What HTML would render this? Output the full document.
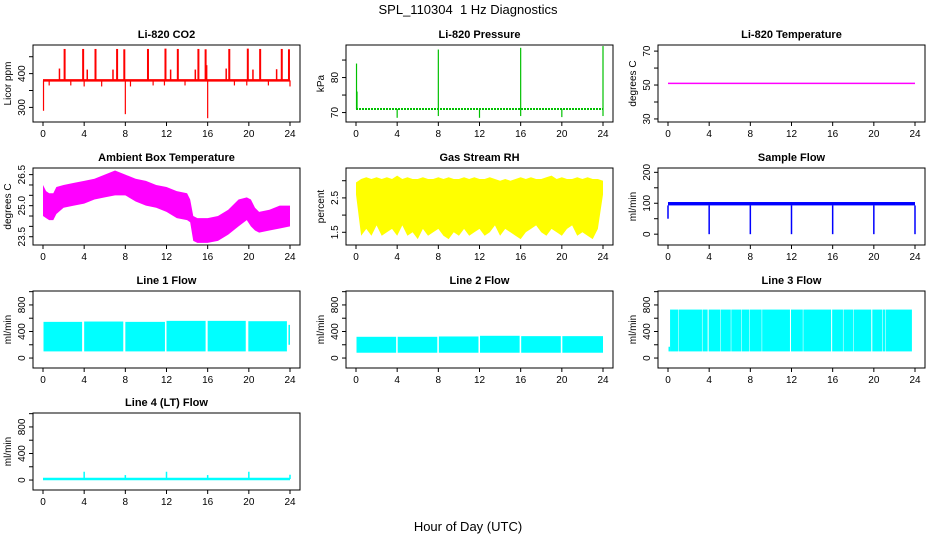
<!DOCTYPE html>
<html><head><meta charset="utf-8"><style>
body{margin:0;background:#fff;}
svg{display:block;font-family:"Liberation Sans",sans-serif;}
</style></head><body>
<svg id="c" width="936" height="540" viewBox="0 0 936 540">
<text x="468" y="14" text-anchor="middle" font-size="13" style="white-space:pre">SPL_110304  1 Hz Diagnostics</text>
<text x="468" y="531" text-anchor="middle" font-size="13">Hour of Day (UTC)</text>
</svg>
<script>
// ---- data ----
const hourTicks=[0,4,8,12,16,20,24];
// CO2
const co2Base=380;
const co2SpikeT=[2.1,3.9,5.1,7.2,7.9,10.2,11.9,13.1,15.1,15.8,18.1,19.9,21.1,23.2,23.9];
const co2SpikeV=[473,473,473,473,472,473,474,473,473,472,473,474,473,473,472];
const co2MinorT=[1.6,4.3,6.8,12.4,14.8,15.9,17.8,20.4,22.7];
const co2MinorV=[415,412,412,412,412,425,415,412,413];
const co2DipT=[0.05,0.6,2.7,4.0,5.7,8.0,8.5,10.7,11.8,13.8,16.0,18.6,19.8,21.9,24.0];
const co2DipV=[290,365,365,362,362,280,362,365,365,365,268,365,365,365,362];
// Pressure
const presBase=71;
const presSpikeT=[0.05,0.1,8.0,16.0,24.0];
const presSpikeV=[84,76,88,88.5,89];
const presDipT=[4,8,12,16,20,24];
const presDipV=[68.5,69,68.5,69,68.7,69];
// Li-820 temperature
const tempVal=51;
// Ambient box temp
const ambT=[0,0.3,0.6,1,1.3,2,3,4,5,6,7,8,9,10,11,12,13,14,14.3,14.6,15,16,17,18,19,19.8,20.2,20.6,21,22,23,24];
const ambHi=[26.0,25.7,25.6,25.6,25.9,26.0,26.1,26.2,26.3,26.5,26.7,26.5,26.3,26.2,26.0,25.9,25.7,25.6,25.3,24.5,24.4,24.4,24.5,24.8,25.3,25.4,25.3,24.9,24.7,24.8,25.0,25.0];
const ambLo=[24.5,24.4,24.3,24.3,24.6,24.9,25.0,25.1,25.3,25.4,25.5,25.5,25.2,25.0,24.9,24.7,24.4,24.3,24.2,23.3,23.2,23.2,23.3,23.6,24.0,24.3,24.0,23.8,23.7,23.8,23.9,24.0];
// Gas stream RH (half-hourly)
const rhHi=[2.95,3.05,3.1,3.05,3.1,3.05,3.1,3.05,3.15,3.05,3.1,3.05,3.05,3.1,3.05,3.05,3.1,3.05,3.1,3.05,3.05,3.1,3.05,3.1,3.05,3.05,3.1,3.05,3.0,3.05,3.0,3.05,3.1,3.05,3.1,3.05,3.05,3.1,3.15,3.05,3.1,3.05,3.05,3.1,3.05,3.1,3.05,3.05,3.0];
const rhLo=[2.6,1.4,1.6,1.4,1.7,1.4,1.5,1.6,1.4,1.7,1.4,1.5,1.3,1.6,1.4,1.5,1.6,1.4,1.3,1.5,1.4,1.6,1.4,1.5,1.6,1.4,1.5,1.7,1.4,1.6,1.5,1.4,1.3,1.5,1.6,1.7,1.5,1.4,1.6,1.5,1.4,1.6,1.7,1.4,1.5,1.4,1.3,1.6,2.6];
// Sample flow
const sfHi=104, sfLo=93;
const sfDipT=[0,4,8,12,16,20,24];
const sfDipV=[50,0,0,0,0,0,0];
// Line flows: segments
const l1SegStart=[0.05,4.0,8.0,12.0,16.0,19.95,23.85];
const l1SegEnd=[3.8,7.8,11.85,15.8,19.7,23.7,24.0];
const l1Hi=[545,550,545,560,560,555,500];
const l1Lo=[100,100,100,100,100,100,200];
const l2SegStart=[0.05,4.05,8.05,12.05,16.05,20.05];
const l2SegEnd=[3.9,7.9,11.9,15.9,19.9,24.0];
const l2Hi=[320,320,325,335,330,330];
const l2Lo=[80,80,80,80,80,80];
const l3SegStart=[0.05,0.2,1.05,3.35,3.95,5.15,6.15,7.15,7.95,9.15,11.95,13.15,15.95,17.05,18.05,19.85,20.85,21.15];
const l3SegEnd=[0.2,1.0,3.3,3.85,5.1,6.1,7.1,7.9,9.1,11.85,13.1,15.85,17.0,18.0,19.75,20.8,21.1,23.7];
const l3Hi=[170,730,730,730,730,730,730,730,730,730,730,730,730,730,730,730,730,730];
const l3Lo=[100,100,100,100,100,100,100,100,100,100,100,100,100,100,100,100,100,100];
const l4Base=15;
const l4SpikeT=[4,8,12,16,20,24];
const l4SpikeV=[125,75,125,75,125,80];

// ---- layout ----
const NS='http://www.w3.org/2000/svg';
const svg=document.getElementById('c');
const colLeft=[33,346,658], rowTop=[45,168,291,413], BW=267, BH=77;
function mk(tag,attrs,parent){const e=document.createElementNS(NS,tag);for(const k in attrs)e.setAttribute(k,attrs[k]);(parent||svg).appendChild(e);return e;}
function panel(col,row,title,ylab,dom,ticks,labels,name){
  const L=colLeft[col],T=rowTop[row],B=T+BH;
  const g=mk('g',{});
  
  
  const x=h=>L+10+h*247/24;
  const y=v=>B-(v-dom[0])/(dom[1]-dom[0])*BH;
  const t=mk('text',{x:L+BW/2,y:T-7,'text-anchor':'middle','font-size':11,'font-weight':'bold'},g);
  t.textContent=title;
  
  
  const box=mk('rect',{x:L,y:T,width:BW,height:BH,fill:'none',stroke:'#000','stroke-width':1},g);
  
  
  const xa=mk('g',{},g);
  
  
  hourTicks.forEach(h=>{mk('line',{x1:x(h),x2:x(h),y1:B,y2:B+4,stroke:'#000'},xa);
    const tl=mk('text',{x:x(h),y:B+15,'text-anchor':'middle','font-size':10},xa);tl.textContent=h;});
  const ya=mk('g',{},g);
  
  
  mk('line',{x1:L,x2:L,y1:y(ticks[0]),y2:y(ticks[ticks.length-1]),stroke:'#000'},ya);
  ticks.forEach((v,i)=>{mk('line',{x1:L-4,x2:L,y1:y(v),y2:y(v),stroke:'#000'},ya);
    if(labels[i]!==''){const tl=mk('text',{x:L-8,y:y(v),'text-anchor':'middle','font-size':10,transform:`rotate(-90 ${L-8} ${y(v)})`},ya);tl.textContent=labels[i];}});
  const yl=mk('text',{x:L-22,y:T+BH/2,'text-anchor':'middle','font-size':10,transform:`rotate(-90 ${L-22} ${T+BH/2})`},g);
  yl.textContent=ylab;
  
  
  const s=mk('g',{},g);
  
  
  return {x,y,s};
}
function vline(p,t,v0,v1,c,w){mk('line',{x1:p.x(t),x2:p.x(t),y1:p.y(v0),y2:p.y(v1),stroke:c,'stroke-width':w||1.5},p.s);}
function bandPoly(p,ts,hi,lo,c){let pts=ts.map((t,i)=>p.x(t)+','+p.y(hi[i]));for(let i=ts.length-1;i>=0;i--)pts.push(p.x(ts[i])+','+p.y(lo[i]));mk('polygon',{points:pts.join(' '),fill:c},p.s);}
function segs(p,st,en,hi,lo,c){st.forEach((s,i)=>mk('rect',{x:p.x(s),y:p.y(hi[i]),width:Math.max(1,p.x(en[i])-p.x(s)),height:p.y(lo[i])-p.y(hi[i]),fill:c},p.s));}

// CO2
let p=panel(0,0,'Li-820 CO2','Licor ppm',[256.8,484.7],[300,350,400,450],['300','','400',''],'co2');
mk('line',{x1:p.x(0),x2:p.x(24),y1:p.y(co2Base),y2:p.y(co2Base),stroke:'red','stroke-width':2.5},p.s);
co2SpikeT.forEach((t,i)=>vline(p,t,co2Base,co2SpikeV[i],'red',2));
co2MinorT.forEach((t,i)=>vline(p,t,co2Base,co2MinorV[i],'red',1.5));
co2DipT.forEach((t,i)=>vline(p,t,co2Base,co2DipV[i],'red',1.2));
// Pressure
p=panel(1,0,'Li-820 Pressure','kPa',[67.3,89.3],[70,75,80,85],['70','','80',''],'pressure');
mk('line',{x1:p.x(0),x2:p.x(24),y1:p.y(presBase),y2:p.y(presBase),stroke:'#00c000','stroke-width':2,'stroke-dasharray':'2 1'},p.s);
presSpikeT.forEach((t,i)=>vline(p,t,presBase,presSpikeV[i],'#00c000',1.2));
presDipT.forEach((t,i)=>vline(p,t,presBase,presDipV[i],'#00c000',1.2));
// Temperature
p=panel(2,0,'Li-820 Temperature','degrees C',[28.2,73.6],[30,40,50,60,70],['30','','50','','70'],'li820-temperature');
mk('line',{x1:p.x(0),x2:p.x(24),y1:p.y(tempVal),y2:p.y(tempVal),stroke:'#ff00ff','stroke-width':1.5},p.s);
// Ambient
p=panel(0,1,'Ambient Box Temperature','degrees C',[23.1,26.82],[23.5,24,24.5,25,25.5,26,26.5],['23.5','','','25.0','','','26.5'],'ambient-temperature');
bandPoly(p,ambT,ambHi,ambLo,'#ff00ff');
// RH
p=panel(1,1,'Gas Stream RH','percent',[1.13,3.37],[1.5,2,2.5,3],['1.5','','2.5',''],'gas-stream-rh');
bandPoly(p,rhHi.map((_,i)=>i*0.5),rhHi,rhLo,'#ffff00');
// Sample flow
p=panel(2,1,'Sample Flow','ml/min',[-35,214],[0,50,100,150,200],['0','','100','','200'],'sample-flow');
mk('rect',{x:p.x(0),y:p.y(sfHi),width:p.x(24)-p.x(0),height:p.y(sfLo)-p.y(sfHi),fill:'#0000ff'},p.s);
sfDipT.forEach((t,i)=>vline(p,t,sfLo,sfDipV[i],'#0000ff',1.5));
// Line flows
const fd=[-150,1010],ft=[0,200,400,600,800,1000],fl=['0','','400','','800',''];
p=panel(0,2,'Line 1 Flow','ml/min',fd,ft,fl,'line1-flow');
segs(p,l1SegStart,l1SegEnd,l1Hi,l1Lo,'#00ffff');
p=panel(1,2,'Line 2 Flow','ml/min',fd,ft,fl,'line2-flow');
segs(p,l2SegStart,l2SegEnd,l2Hi,l2Lo,'#00ffff');
p=panel(2,2,'Line 3 Flow','ml/min',fd,ft,fl,'line3-flow');
segs(p,l3SegStart,l3SegEnd,l3Hi,l3Lo,'#00ffff');
p=panel(0,3,'Line 4 (LT) Flow','ml/min',fd,ft,fl,'line4-flow');
mk('line',{x1:p.x(0),x2:p.x(24),y1:p.y(l4Base),y2:p.y(l4Base),stroke:'#00ffff','stroke-width':2.5},p.s);
l4SpikeT.forEach((t,i)=>vline(p,t,l4Base,l4SpikeV[i],'#00ffff',1.5));
</script>
</body></html>
